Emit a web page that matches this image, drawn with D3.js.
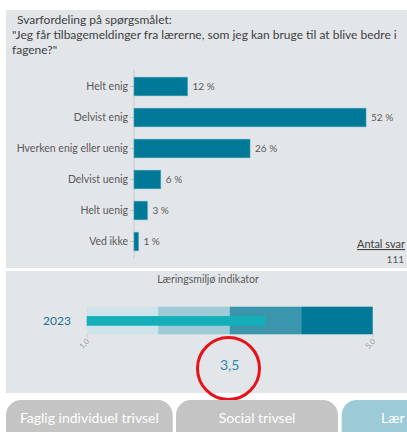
<!DOCTYPE html>
<html>
<head>
<meta charset="utf-8">
<script src="https://cdn.jsdelivr.net/npm/d3@7"></script>
<style>
  body { margin: 0; background: #fff; }
  svg { display: block; font-family: Lato, "Open Sans", sans-serif; }
</style>
</head>
<body>
<div id="chart"></div>
<script>
// svarfordeling
const categories = ["Helt enig", "Delvist enig", "Hverken enig eller uenig", "Delvist uenig", "Helt uenig", "Ved ikke"];
const percents = [12, 52, 26, 6, 3, 1];
const antalSvar = 111;

// indikator
const years = ["2023"];
const indicatorValues = [3.5];
const bandEdges = [1, 2, 3, 4, 5];
const bandColors = ["#cfe4ea", "#9dcbd7", "#3b95ac", "#007897"];
const indicatorTicks = [1, 5];

// knapper (den sidste er skåret af i kanten)
const buttons = ["Faglig individuel trivsel", "Social trivsel", "Lær"];

const W = 407, H = 432;
const panelFill = "#e3e6e9";

const svg = d3.select("#chart").append("svg")
    .attr("width", W)
    .attr("height", H);

// paneler
svg.append("rect").attr("x", 6).attr("y", 10).attr("width", W - 6).attr("height", 258).attr("fill", panelFill);
svg.append("rect").attr("x", 6).attr("y", 271).attr("width", W - 6).attr("height", 122).attr("fill", panelFill);

// titel
const title = svg.append("text")
    .attr("x", 12)
    .attr("y", 24)
    .attr("font-size", 12)
    .attr("fill", "#404040");
title.append("tspan").attr("x", 17).attr("dy", 0).text("Svarfordeling på spørgsmålet:");
title.append("tspan").attr("x", 12).attr("dy", 15).text("\"Jeg får tilbagemeldinger fra lærerne, som jeg kan bruge til at blive bedre i");
title.append("tspan").attr("x", 12).attr("dy", 15).text("fagene?\"");

// bar chart
const x = d3.scaleLinear().domain([0, 52]).range([134, 366]);
const y = d3.scaleBand().domain(categories).range([71, 257]).paddingInner(0.4).paddingOuter(0.2);

const yAxis = svg.append("g")
    .attr("transform", "translate(134,0)")
    .call(d3.axisLeft(y).tickSize(4).tickPadding(2));
yAxis.select(".domain").attr("stroke", "#c8c8c8").attr("d", "M0,70V258");
yAxis.selectAll(".tick line").attr("stroke", "#c8c8c8");
yAxis.selectAll(".tick text").attr("font-size", 10.5).attr("fill", "#595959").attr("font-family", "Lato, sans-serif");

svg.append("g").selectAll("rect")
    .data(percents)
    .join("rect")
    .attr("x", x(0))
    .attr("y", (d, i) => y(categories[i]))
    .attr("width", d => x(d) - x(0))
    .attr("height", y.bandwidth())
    .attr("fill", "#007897")
    .attr("stroke", "#3d9fb6")
    .attr("stroke-width", 0.6);

svg.append("g").selectAll("text")
    .data(percents)
    .join("text")
    .attr("x", d => x(d) + 5)
    .attr("y", (d, i) => y(categories[i]) + y.bandwidth() / 2)
    .attr("dy", "0.35em")
    .attr("font-size", 10)
    .attr("fill", "#595959")
    .text(d => d + " %");

// antal svar
svg.append("text")
    .attr("x", 405).attr("y", 248)
    .attr("text-anchor", "end")
    .attr("font-size", 11)
    .attr("fill", "#404040")
    .attr("text-decoration", "underline")
    .text("Antal svar");
svg.append("text")
    .attr("x", 404).attr("y", 263)
    .attr("text-anchor", "end")
    .attr("font-size", 10)
    .attr("fill", "#595959")
    .text(antalSvar);

// indikator
svg.append("text")
    .attr("x", 208).attr("y", 283)
    .attr("text-anchor", "middle")
    .attr("font-size", 10.5)
    .attr("fill", "#595959")
    .text("Læringsmiljø indikator");

const xi = d3.scaleLinear().domain([1, 5]).range([86.7, 372.7]);
const yi = d3.scaleBand().domain(years).range([306.7, 334.3]);

svg.append("g").selectAll("rect")
    .data(bandEdges.slice(0, -1))
    .join("rect")
    .attr("x", d => xi(d))
    .attr("y", yi(years[0]))
    .attr("width", (d, i) => xi(bandEdges[i + 1]) - xi(d))
    .attr("height", yi.bandwidth())
    .attr("fill", (d, i) => bandColors[i]);

svg.append("g").selectAll("rect")
    .data(indicatorValues)
    .join("rect")
    .attr("x", xi(1))
    .attr("y", (d, i) => yi(years[i]) + yi.bandwidth() * 0.34)
    .attr("width", d => xi(d) - xi(1))
    .attr("height", yi.bandwidth() * 0.35)
    .attr("fill", "#14afb8");

svg.append("g").selectAll("text")
    .data(years)
    .join("text")
    .attr("x", 57)
    .attr("y", d => yi(d) + yi.bandwidth() / 2)
    .attr("dy", "0.35em")
    .attr("text-anchor", "middle")
    .attr("font-size", 12)
    .attr("fill", "#1f6f90")
    .text(d => d);

const xiAxis = svg.append("g")
    .attr("transform", "translate(0,334.3)")
    .call(d3.axisBottom(xi).tickValues(indicatorTicks).tickSize(3).tickFormat(d => d3.format(".1f")(d).replace(".", ",")));
xiAxis.select(".domain").remove();
xiAxis.selectAll(".tick line").attr("stroke", "#c8c8c8");
xiAxis.selectAll(".tick text")
    .attr("font-size", 7.5)
    .attr("fill", "#9a9a9a")
    .attr("font-family", "Lato, sans-serif")
    .attr("text-anchor", "end")
    .attr("x", 0)
    .attr("y", 0)
    .attr("dy", "0.3em")
    .attr("transform", "translate(1,6) rotate(-45)");

// værdi + rød cirkel
svg.append("text")
    .attr("x", xi(3)).attr("y", 370)
    .attr("text-anchor", "middle")
    .attr("font-size", 14)
    .attr("fill", "#2d89ad")
    .text(d3.format(".1f")(indicatorValues[0]).replace(".", ","));
svg.append("circle")
    .attr("cx", 228.5).attr("cy", 368.5).attr("r", 31)
    .attr("fill", "none")
    .attr("stroke", "#e8121a")
    .attr("stroke-width", 3);

// knapper
const btnX = [6, 176, 341.7];
const btnW = [166.7, 162, 120];
const btnFill = ["#c4c4c4", "#c4c4c4", "#9ccad6"];
const btn = svg.append("g").selectAll("g")
    .data(buttons)
    .join("g");
btn.append("rect")
    .attr("x", (d, i) => btnX[i])
    .attr("y", 400)
    .attr("width", (d, i) => btnW[i])
    .attr("height", 50)
    .attr("rx", 15)
    .attr("fill", (d, i) => btnFill[i]);
btn.append("text")
    .attr("x", (d, i) => i < 2 ? btnX[i] + btnW[i] / 2 : 381)
    .attr("y", 423)
    .attr("text-anchor", (d, i) => i < 2 ? "middle" : "start")
    .attr("font-size", 14)
    .attr("fill", "#fff")
    .text(d => d);
</script>
</body>
</html>
